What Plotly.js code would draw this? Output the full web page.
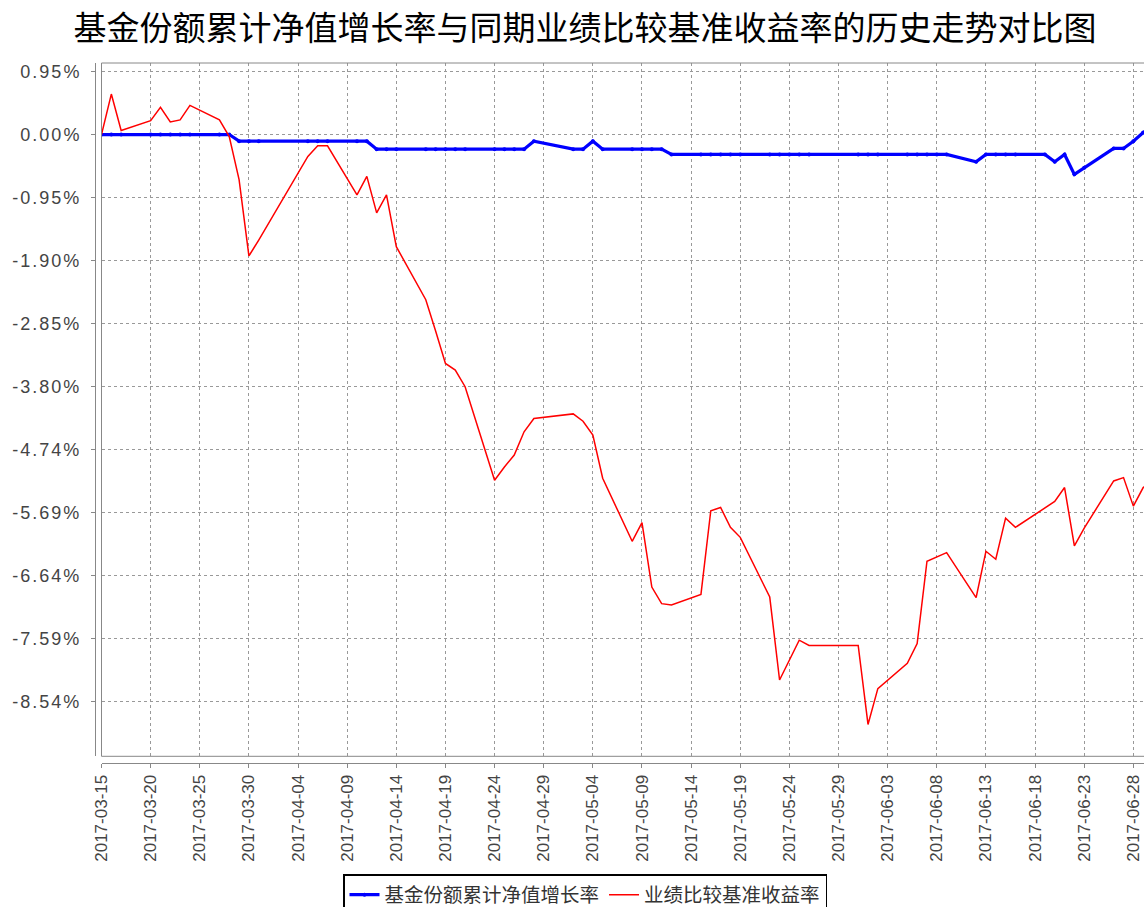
<!DOCTYPE html>
<html>
<head>
<meta charset="utf-8">
<script src="https://cdn.plot.ly/plotly-3.0.1.min.js"></script>
<style>
html,body{margin:0;padding:0;overflow:hidden;background:#fff;}
#chart{width:1170px;height:907px;}
.ytick text{letter-spacing:2px;}
</style>
</head>
<body>
<div id="chart"></div>
<script>
const dates = ["2017-03-15","2017-03-16","2017-03-17","2017-03-20","2017-03-21","2017-03-22","2017-03-23","2017-03-24",
"2017-03-27","2017-03-28","2017-03-29","2017-03-30","2017-03-31","2017-04-05","2017-04-06","2017-04-07",
"2017-04-10","2017-04-11","2017-04-12","2017-04-13","2017-04-14","2017-04-17","2017-04-18","2017-04-19","2017-04-20","2017-04-21",
"2017-04-24","2017-04-25","2017-04-26","2017-04-27","2017-04-28","2017-05-02","2017-05-03","2017-05-04","2017-05-05",
"2017-05-08","2017-05-09","2017-05-10","2017-05-11","2017-05-12","2017-05-15","2017-05-16","2017-05-17","2017-05-18","2017-05-19",
"2017-05-22","2017-05-23","2017-05-24","2017-05-25","2017-05-26","2017-05-31","2017-06-01","2017-06-02",
"2017-06-05","2017-06-06","2017-06-07","2017-06-08","2017-06-09","2017-06-12","2017-06-13","2017-06-14","2017-06-15","2017-06-16",
"2017-06-19","2017-06-20","2017-06-21","2017-06-22","2017-06-23","2017-06-26","2017-06-27","2017-06-28","2017-06-29","2017-06-30"];

// 基金份额累计净值增长率 (%)
const fundGrowth = [0,0,0,0,0,0,0,0,
0,0,-0.10,-0.10,-0.10,-0.10,-0.10,-0.10,
-0.10,-0.10,-0.22,-0.22,-0.22,-0.22,-0.22,-0.22,-0.22,-0.22,
-0.22,-0.22,-0.22,-0.22,-0.10,-0.22,-0.22,-0.10,-0.22,
-0.22,-0.22,-0.22,-0.22,-0.30,-0.30,-0.30,-0.30,-0.30,-0.30,
-0.30,-0.30,-0.30,-0.30,-0.30,-0.30,-0.30,-0.30,
-0.30,-0.30,-0.30,-0.30,-0.30,-0.41,-0.30,-0.30,-0.30,-0.30,
-0.30,-0.41,-0.30,-0.60,-0.50,-0.21,-0.21,-0.10,0.03,0.12];

// 业绩比较基准收益率 (%)
const benchmark = [0.00,0.61,0.06,0.21,0.41,0.19,0.22,0.44,
0.22,-0.03,-0.68,-1.83,-1.59,-0.33,-0.17,-0.17,
-0.91,-0.63,-1.18,-0.91,-1.69,-2.49,-2.96,-3.45,-3.55,-3.80,
-5.21,-5.01,-4.83,-4.48,-4.28,-4.21,-4.32,-4.53,-5.18,
-6.13,-5.85,-6.82,-7.07,-7.09,-6.93,-5.67,-5.62,-5.92,-6.07,
-6.97,-8.22,-7.92,-7.62,-7.70,-7.70,-8.89,-8.35,
-7.97,-7.67,-6.43,-6.37,-6.30,-6.98,-6.28,-6.40,-5.78,-5.92,
-5.63,-5.53,-5.32,-6.20,-5.93,-5.22,-5.17,-5.60,-5.32,-5.20];

const seriesNames = ["基金份额累计净值增长率","业绩比较基准收益率"];
const yTickLabels = ["0.95%","0.00%","-0.95%","-1.90%","-2.85%","-3.80%","-4.74%","-5.69%","-6.64%","-7.59%","-8.54%"];
const yTickStep = 0.94888;
const xTickDates = ["2017-03-15","2017-03-20","2017-03-25","2017-03-30","2017-04-04","2017-04-09","2017-04-14","2017-04-19",
"2017-04-24","2017-04-29","2017-05-04","2017-05-09","2017-05-14","2017-05-19","2017-05-24","2017-05-29","2017-06-03",
"2017-06-08","2017-06-13","2017-06-18","2017-06-23","2017-06-28"];

const yTickVals = yTickLabels.map((_, i) => yTickStep * (1 - i));

const W = 1170, H = 907;
const mL = 95, mR = 17, mT = 63, mB = 144;
const plotW = W - mL - mR, plotH = H - mT - mB;
const xDomStart = 6.5 / plotW;
const yDomStart = 6.7 / plotH;

const traces = [
  {x: dates, y: fundGrowth, name: seriesNames[0], type: 'scatter', mode: 'lines+markers',
   line: {color: '#0000ff', width: 3.2}, marker: {color: '#0000ff', size: 4}},
  {x: dates, y: benchmark, name: seriesNames[1], type: 'scatter', mode: 'lines',
   line: {color: '#ff0000', width: 1.5}}
];

const layout = {
  width: W, height: H,
  margin: {l: mL, r: mR, t: mT, b: mB, pad: 0},
  paper_bgcolor: '#ffffff', plot_bgcolor: '#ffffff',
  showlegend: true,
  title: {text: '基金份额累计净值增长率与同期业绩比较基准收益率的历史走势对比图',
          font: {family: 'Noto Sans CJK SC', size: 33, color: '#000'},
          x: 0.5, xref: 'container', xanchor: 'center', y: 1 - 28/907, yref: 'container', yanchor: 'middle'},
  xaxis: {
    type: 'date', range: ['2017-03-15', '2017-06-30'],
    domain: [xDomStart, 1], anchor: 'free', position: 0,
    showline: true, linecolor: '#888', linewidth: 1,
    tickvals: xTickDates, ticktext: xTickDates, tickangle: -90,
    ticks: 'outside', ticklen: 4, tickcolor: '#888',
    tickfont: {family: 'Liberation Sans, Arial', size: 17, color: '#444'},
    showgrid: true, gridcolor: '#999', griddash: '3px,3px', gridwidth: 1,
    zeroline: false, fixedrange: true
  },
  yaxis: {
    range: [-9.37, 1.078],
    domain: [yDomStart, 1], anchor: 'free', position: 0,
    showline: true, linecolor: '#888', linewidth: 1,
    tickvals: yTickVals, ticktext: yTickLabels,
    ticks: 'outside', ticklen: 4, tickcolor: '#888',
    tickfont: {family: 'Liberation Sans, Arial', size: 18, color: '#444'},
    ticklabelstandoff: 6,
    showgrid: true, gridcolor: '#999', griddash: '3px,3px', gridwidth: 1,
    zeroline: false, fixedrange: true
  },
  shapes: [
    {type: 'rect', xref: 'x domain', yref: 'y domain', x0: 0, x1: 1, y0: 0, y1: 1,
     line: {color: '#888', width: 1}, fillcolor: 'rgba(0,0,0,0)', layer: 'above'}
  ],
  legend: {
    orientation: 'h', x: 0.5, xref: 'container', xanchor: 'center',
    y: (907 - 874) / 907, yref: 'container', yanchor: 'top',
    bordercolor: '#000', borderwidth: 1.5, bgcolor: '#fff',
    font: {family: 'Noto Sans CJK SC', size: 19.5, color: '#333'},
    itemwidth: 30, tracegroupgap: 0
  }
};

Plotly.newPlot('chart', traces, layout, {displayModeBar: false, staticPlot: true});
</script>
</body>
</html>
